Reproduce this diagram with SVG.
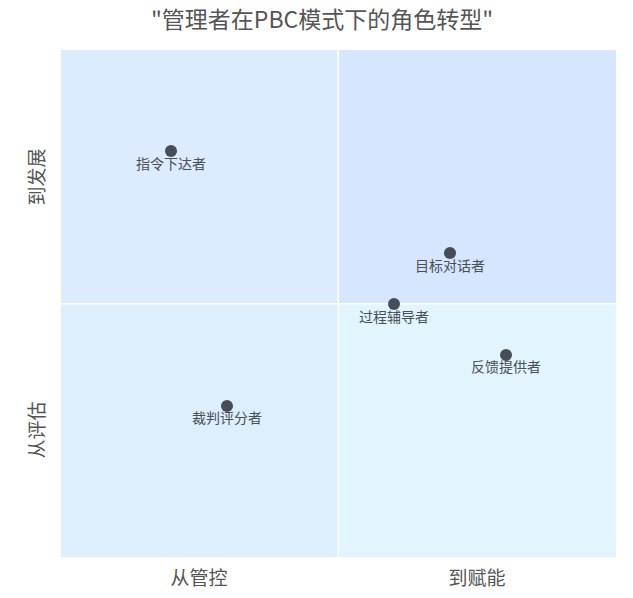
<svg xmlns="http://www.w3.org/2000/svg" width="633" height="598" viewBox="0 0 633 598">
<style>
.t{font-family:"Noto Sans CJK SC","Liberation Sans",sans-serif;fill:#555;}
.title{font-size:23px;text-anchor:middle;}
.ax{font-size:19px;text-anchor:middle;}
.lbl{font-size:14px;text-anchor:middle;fill:#4a4f57;}
.dot{fill:#464d57;}
</style>
<rect width="633" height="598" fill="#ffffff"/>
<g id="quadrants">
<rect x="61" y="50" width="276.5" height="253" fill="#dcebfd"/>
<rect x="339" y="50" width="277" height="253" fill="#d5e6fe"/>
<rect x="61" y="304.5" width="276.5" height="252.5" fill="#ddeefc"/>
<rect x="339" y="304.5" width="277" height="252.5" fill="#e2f5fe"/>
</g>
<text class="t title" x="322" y="28">"管理者在PBC模式下的角色转型"</text>
<g id="axes">
<text class="t ax" x="199" y="585">从管控</text>
<text class="t ax" x="477" y="585">到赋能</text>
<text class="t ax" transform="translate(44,177) rotate(-90)">到发展</text>
<text class="t ax" transform="translate(44,430) rotate(-90)">从评估</text>
</g>
<g id="connectors"></g>
<g id="n1"><circle class="dot" cx="171" cy="151" r="6"/><text class="t lbl" x="171" y="169">指令下达者</text></g>
<g id="n2"><circle class="dot" cx="450" cy="253" r="6"/><text class="t lbl" x="450" y="271">目标对话者</text></g>
<g id="n3"><circle class="dot" cx="394" cy="304" r="6"/><text class="t lbl" x="394" y="322">过程辅导者</text></g>
<g id="n4"><circle class="dot" cx="506" cy="355" r="6"/><text class="t lbl" x="506" y="372">反馈提供者</text></g>
<g id="n5"><circle class="dot" cx="227" cy="406" r="6"/><text class="t lbl" x="227" y="423">裁判评分者</text></g>
</svg>
